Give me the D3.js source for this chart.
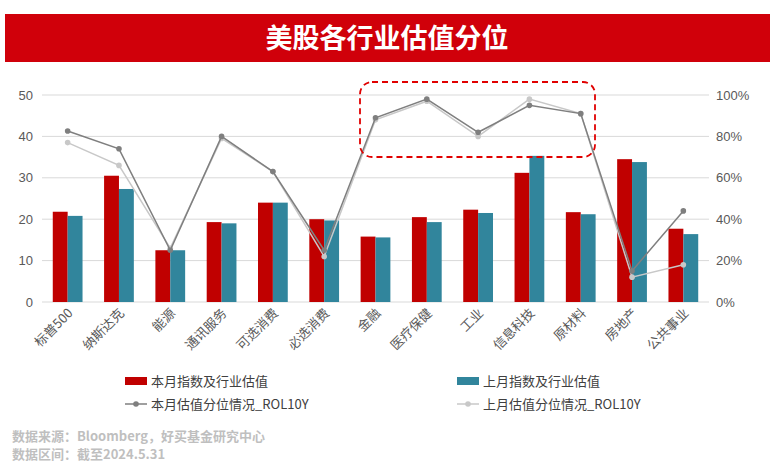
<!DOCTYPE html>
<html>
<head>
<meta charset="utf-8">
<script src="https://d3js.org/d3.v7.min.js"></script>
<style>
  body { margin: 0; background: #fff; font-family: "Noto Sans CJK SC", "Noto Sans", sans-serif; }
  .axis text { fill: #595959; font-size: 13px; }
  .axis path, .axis line { display: none; }
</style>
</head>
<body>
<svg id="screen" width="775" height="465"></svg>
<script>
  // categories and series
  const categories = ["标普500","纳斯达克","能源","通讯服务","可选消费","必选消费","金融","医疗保健","工业","信息科技","原材料","房地产","公共事业"]
  const thisMonth = [21.8, 30.5, 12.5, 19.3, 24.0, 20.0, 15.8, 20.5, 22.3, 31.2, 21.7, 34.5, 17.7]
  const lastMonth = [20.8, 27.3, 12.5, 19.0, 24.0, 19.7, 15.6, 19.3, 21.5, 35.3, 21.2, 33.8, 16.4]
  const pctThis = [0.826, 0.74, 0.25, 0.80, 0.63, 0.25, 0.89, 0.98, 0.82, 0.95, 0.91, 0.15, 0.44]
  const pctLast = [0.77, 0.66, 0.26, 0.79, 0.63, 0.22, 0.88, 0.97, 0.80, 0.98, 0.91, 0.12, 0.18]
  const leftTicks = [0, 10, 20, 30, 40, 50]
  const rightTicks = [0, 0.2, 0.4, 0.6, 0.8, 1.0]

  const svg = d3.select('#screen')
  const plot = {left: 42, right: 709, top: 95, bottom: 302}

  // title banner
  svg.append('rect').attr('x', 5).attr('y', 14).attr('width', 765).attr('height', 48).attr('fill', '#D0000A')
  svg.append('text').attr('x', 387).attr('y', 48).attr('text-anchor', 'middle')
     .attr('fill', '#fff').attr('font-size', 27).attr('font-weight', 'bold').text('美股各行业估值分位')

  let x = d3.scaleBand().domain(categories).range([plot.left, plot.right]).paddingInner(0.42).paddingOuter(0.21)
  let y = d3.scaleLinear().domain([0, 50]).range([plot.bottom, plot.top])
  let y2 = d3.scaleLinear().domain([0, 1]).range([plot.bottom, plot.top])

  // gridlines
  svg.append('g').selectAll('line').data(leftTicks).join('line')
     .attr('x1', plot.left).attr('x2', plot.right)
     .attr('y1', d => y(d)).attr('y2', d => y(d))
     .attr('stroke', '#d9d9d9').attr('stroke-width', 1)

  svg.append('g').attr('class', 'axis').attr('transform', `translate(${plot.left - 6},0)`)
     .call(d3.axisLeft(y).tickValues(leftTicks).tickSize(0))
  svg.append('g').attr('class', 'axis').attr('transform', `translate(${plot.right + 4},0)`)
     .call(d3.axisRight(y2).tickValues(rightTicks).tickSize(0).tickFormat(d3.format('.0%')))

  let bw = x.bandwidth() / 2
  svg.append('g').selectAll('rect').data(thisMonth).join('rect')
     .attr('x', (d, i) => x(categories[i])).attr('width', bw)
     .attr('y', d => y(d)).attr('height', d => plot.bottom - y(d)).attr('fill', '#C00000')
  svg.append('g').selectAll('rect').data(lastMonth).join('rect')
     .attr('x', (d, i) => x(categories[i]) + bw).attr('width', bw)
     .attr('y', d => y(d)).attr('height', d => plot.bottom - y(d)).attr('fill', '#31859C')

  let cx = i => x(categories[i]) + x.bandwidth() / 2
  let line = d3.line().x((d, i) => cx(i)).y(d => y2(d))
  ;[[pctLast, '#c8c8c8'], [pctThis, '#7f7f7f']].forEach(([data, col]) => {
    svg.append('path').attr('d', line(data)).attr('fill', 'none').attr('stroke', col).attr('stroke-width', 1.5)
    svg.append('g').selectAll('circle').data(data).join('circle')
       .attr('cx', (d, i) => cx(i)).attr('cy', d => y2(d)).attr('r', 2.8).attr('fill', col)
  })

  // x labels rotated
  svg.append('g').selectAll('text').data(categories).join('text')
     .attr('transform', (d, i) => `translate(${cx(i) + 6},${plot.bottom + 12}) rotate(-45)`)
     .attr('text-anchor', 'end').attr('fill', '#595959').attr('font-size', 13).text(d => d)

  // highlight box
  svg.append('rect').attr('x', 360).attr('y', 82).attr('width', 235).attr('height', 75).attr('rx', 12)
     .attr('fill', 'none').attr('stroke', '#E00000').attr('stroke-width', 1.8).attr('stroke-dasharray', '6,4')

  // legend
  const legend = [
    {t: '本月指数及行业估值', c: '#C00000', type: 'bar', x: 125, y: 381},
    {t: '上月指数及行业估值', c: '#31859C', type: 'bar', x: 457, y: 381},
    {t: '本月估值分位情况_ROL10Y', c: '#7f7f7f', type: 'line', x: 125, y: 404},
    {t: '上月估值分位情况_ROL10Y', c: '#c8c8c8', type: 'line', x: 457, y: 404}
  ]
  legend.forEach(l => {
    if (l.type === 'bar') svg.append('rect').attr('x', l.x).attr('y', l.y - 4).attr('width', 22).attr('height', 8).attr('fill', l.c)
    else {
      svg.append('line').attr('x1', l.x).attr('x2', l.x + 22).attr('y1', l.y).attr('y2', l.y).attr('stroke', l.c).attr('stroke-width', 1.5)
      svg.append('circle').attr('cx', l.x + 11).attr('cy', l.y).attr('r', 2.8).attr('fill', l.c)
    }
    svg.append('text').attr('x', l.x + 26).attr('y', l.y + 5).attr('font-size', 13).attr('fill', '#404040').text(l.t)
  })

  svg.append('text').attr('x', 12).attr('y', 441).attr('font-size', 13).attr('font-weight', 'bold').attr('fill', '#bfbfbf')
     .text('数据来源：Bloomberg，好买基金研究中心')
  svg.append('text').attr('x', 12).attr('y', 459).attr('font-size', 13).attr('font-weight', 'bold').attr('fill', '#bfbfbf')
     .text('数据区间：截至2024.5.31')
</script>
</body>
</html>
